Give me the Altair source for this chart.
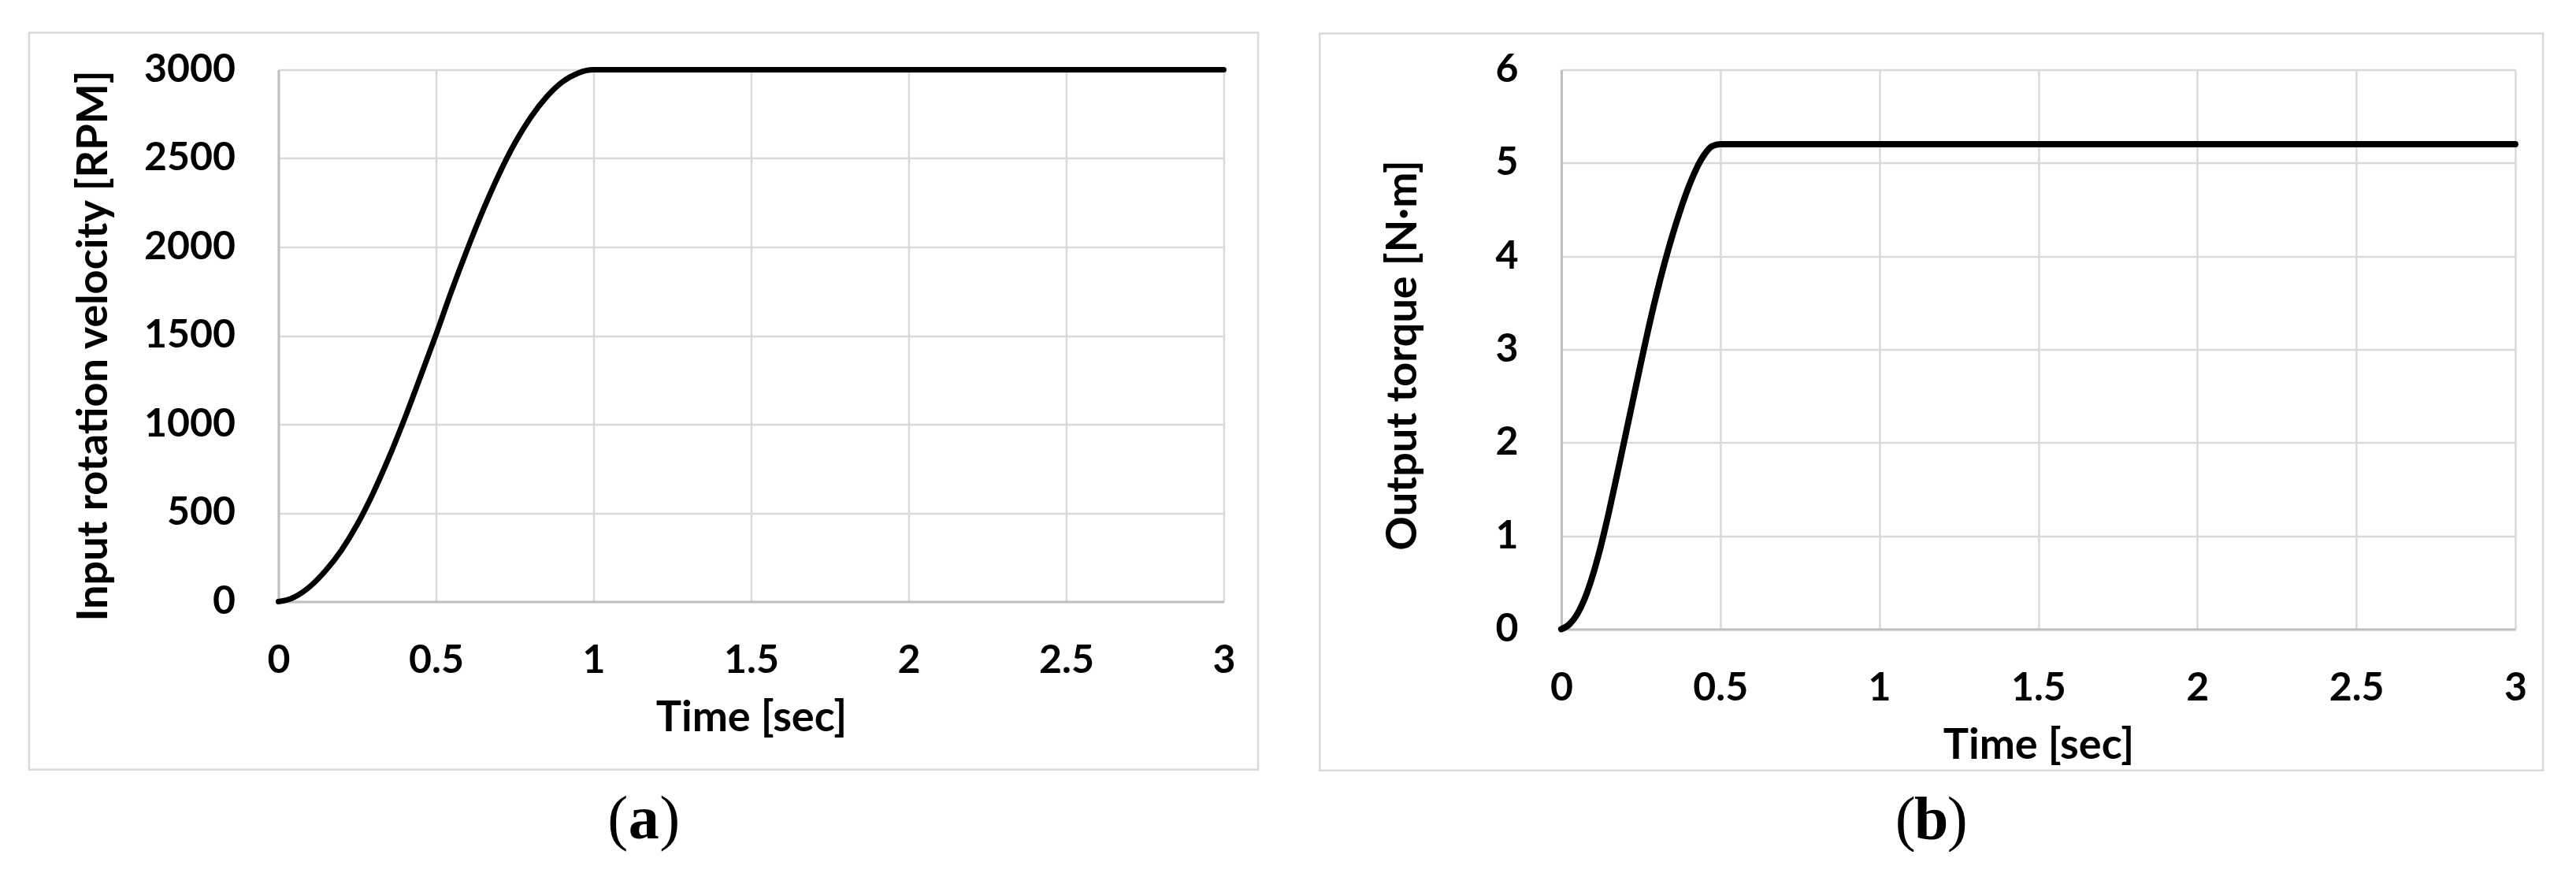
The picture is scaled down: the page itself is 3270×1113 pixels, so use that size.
import altair as alt
import pandas as pd

# ---- data ----
time_a = [0, 0.025, 0.05, 0.1, 0.15, 0.2, 0.25, 0.3, 0.35, 0.4, 0.45, 0.5,
          0.55, 0.6, 0.65, 0.7, 0.75, 0.8, 0.85, 0.9, 0.95, 0.975, 1.0, 3.0]
speed_a = [0, 8, 25, 85, 175, 290, 435, 610, 810, 1030, 1265, 1505,
           1755, 1990, 2210, 2410, 2585, 2730, 2845, 2930, 2980, 2995, 3000, 3000]

time_b = [0, 0.025, 0.05, 0.075, 0.1, 0.125, 0.15, 0.175, 0.2, 0.225, 0.25, 0.275,
          0.3, 0.325, 0.35, 0.375, 0.4, 0.425, 0.45, 0.475, 0.5, 3.0]
torque_b = [0, 0.05, 0.16, 0.34, 0.59, 0.9, 1.26, 1.65, 2.05, 2.45, 2.85, 3.24,
            3.6, 3.93, 4.23, 4.5, 4.74, 4.94, 5.09, 5.18, 5.2, 5.2]

x_ticks = [0, 0.5, 1, 1.5, 2, 2.5, 3]
y_ticks_a = [0, 500, 1000, 1500, 2000, 2500, 3000]
y_ticks_b = [0, 1, 2, 3, 4, 5, 6]

FONT = "Lato"
SERIF = "Liberation Serif"
FS = 50
TFS = 54
GRID = "#d9d9d9"
AXIS = "#bfbfbf"


def panel(times, values, ytitle, ydomain, yticks, yfmt, width, height,
          title_x, title_y, frame, label, label_x, label_y, line_w):
    df = pd.DataFrame({"t": times, "v": values})
    one = alt.Data(values=[{"k": 1}])

    xaxis = alt.Axis(values=x_ticks, format="~g", title="Time [sec]",
                     labelFont=FONT, labelFontSize=FS, labelFontWeight="bold",
                     labelColor="black", labelPadding=50, labelFlush=False,
                     labelOverlap=False, ticks=False,
                     domainColor=AXIS, domainWidth=3,
                     gridColor=GRID, gridWidth=2.5,
                     titleFont=FONT, titleFontSize=TFS, titleFontWeight="bold",
                     titleColor="black", titleY=164, titleBaseline="alphabetic")
    yaxis = alt.Axis(values=yticks, format=yfmt, title=ytitle,
                     labelFont=FONT, labelFontSize=FS, labelFontWeight="bold",
                     labelColor="black", labelPadding=55, labelFlush=False,
                     labelOverlap=False, ticks=False,
                     domainColor=AXIS, domainWidth=3,
                     gridColor=GRID, gridWidth=2.5,
                     titleFont=FONT, titleFontSize=TFS, titleFontWeight="bold",
                     titleColor="black", titleX=title_x, titleY=title_y,
                     titleAngle=270, titleAlign="center", titleBaseline="middle")

    line = alt.Chart(df).mark_line(color="black", strokeWidth=line_w,
                                   interpolate="monotone", strokeCap="round",
                                   strokeJoin="round").encode(
        x=alt.X("t:Q", scale=alt.Scale(domain=[0, 3], nice=False, zero=False), axis=xaxis),
        y=alt.Y("v:Q", scale=alt.Scale(domain=ydomain, nice=False), axis=yaxis),
    )

    fx1, fx2, fy1, fy2 = frame
    box = alt.Chart(one).mark_rect(fill="transparent", stroke=GRID, strokeWidth=2.5).encode(
        x=alt.value(fx1), x2=alt.value(fx2), y=alt.value(fy1), y2=alt.value(fy2))

    lp = alt.Chart(one).mark_text(text="(", font=SERIF, fontSize=78, align="right",
                                  baseline="alphabetic", color="black").encode(
        x=alt.value(label_x - 20), y=alt.value(label_y))
    la = alt.Chart(one).mark_text(text=label, font=SERIF, fontSize=78, fontWeight="bold",
                                  align="center", baseline="alphabetic", color="black").encode(
        x=alt.value(label_x), y=alt.value(label_y))
    rp = alt.Chart(one).mark_text(text=")", font=SERIF, fontSize=78, align="left",
                                  baseline="alphabetic", color="black").encode(
        x=alt.value(label_x + 20), y=alt.value(label_y))

    return alt.layer(box, line, lp, la, rp).properties(width=width, height=height)


left = panel(time_a, speed_a, "Input rotation velocity [RPM]", [0, 3000], y_ticks_a, "d",
             1200, 675, -234, 350, (-316.6, 1243.7, -47, 888.3), "a", 463.7, 975.3, 7)
right = panel(time_b, torque_b, "Output torque [N\u00b7m]", [0, 6], y_ticks_b, "d",
              1211, 710, -200, 362, (-306.7, 1246.3, -46, 889.3), "b", 469.8, 976.3, 8)

chart = alt.hconcat(left, right, spacing=75.5).properties(
    padding={"left": 27.45, "top": 31.45, "right": 0, "bottom": 0},
    background="white",
).configure_view(strokeWidth=0)

chart.save("out.html", embed_options={"renderer": "svg", "actions": False})
